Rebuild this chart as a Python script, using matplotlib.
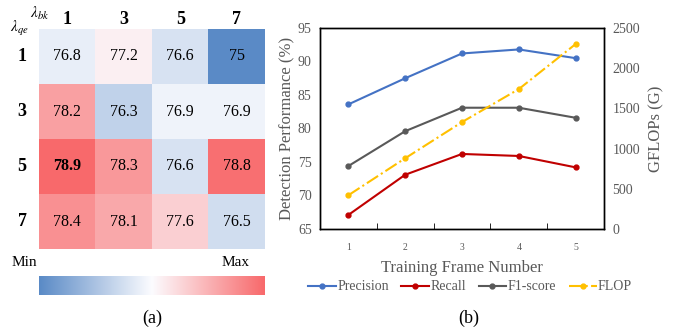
import numpy as np
import matplotlib
matplotlib.use("Agg")
import matplotlib.pyplot as plt
from matplotlib.colors import LinearSegmentedColormap, TwoSlopeNorm

plt.rcParams['font.family'] = ['Liberation Serif', 'DejaVu Serif']
plt.rcParams['mathtext.fontset'] = 'stix'

# ---- data (a) heatmap ----
bk_labels = ['1', '3', '5', '7']
qe_labels = ['1', '3', '5', '7']
heat = np.array([
    [76.8, 77.2, 76.6, 75.0],
    [78.2, 76.3, 76.9, 76.9],
    [78.9, 78.3, 76.6, 78.8],
    [78.4, 78.1, 77.6, 76.5],
])
heat_text = [
    ['76.8', '77.2', '76.6', '75'],
    ['78.2', '76.3', '76.9', '76.9'],
    ['78.9', '78.3', '76.6', '78.8'],
    ['78.4', '78.1', '77.6', '76.5'],
]

# ---- data (b) lines ----
frames = ['1', '2', '3', '4', '5']
precision = [83.6, 87.5, 91.2, 91.8, 90.5]
recall = [67.1, 73.1, 76.2, 75.9, 74.2]
f1 = [74.4, 79.6, 83.1, 83.1, 81.6]
flop = [420, 880, 1330, 1740, 2300]

W, H = 678, 331
fig = plt.figure(figsize=(W / 100, H / 100), dpi=100)

cmap = LinearSegmentedColormap.from_list('excel', ['#5A8AC6', '#FCFCFF', '#F8696B'])
norm = TwoSlopeNorm(vmin=heat.min(), vcenter=np.median(heat), vmax=heat.max())

def fx(px):
    return px / W

def fy(py):
    return 1 - py / H

axh = fig.add_axes([fx(39), fy(249), fx(226), 220 / H])
axh.imshow(heat, cmap=cmap, norm=norm, aspect='auto')
for i in range(4):
    for j in range(4):
        bold = heat[i, j] == heat.max()
        axh.text(j, i, heat_text[i][j], ha='center', va='center', fontsize=11.5,
                 fontweight='bold' if bold else 'normal', color='black')
axh.set_xticks([]); axh.set_yticks([])
for s in axh.spines.values():
    s.set_visible(False)
for j, lab in enumerate(bk_labels):
    axh.text(j, -0.52, lab, ha='center', va='bottom', fontsize=13, fontweight='bold')
for i, lab in enumerate(qe_labels):
    axh.text(-0.8, i, lab, ha='center', va='center', fontsize=13, fontweight='bold')
fig.text(fx(40), fy(13), r'$\lambda_{bk}$', ha='center', va='center', fontsize=11)
fig.text(fx(19), fy(29), r'$\lambda_{qe}$', ha='center', va='center', fontsize=11)

# colorbar
axc = fig.add_axes([fx(39), fy(295), fx(226), 19 / H])
grad = np.linspace(heat.min(), heat.max(), 256)[None, :]
axc.imshow(grad, cmap=cmap,
           norm=TwoSlopeNorm(vmin=heat.min(), vcenter=(heat.min() + heat.max()) / 2, vmax=heat.max()),
           aspect='auto')
axc.set_xticks([]); axc.set_yticks([])
for s in axc.spines.values():
    s.set_visible(False)
fig.text(fx(24), fy(263), 'Min', ha='center', va='center', fontsize=11)
fig.text(fx(236), fy(263), 'Max', ha='center', va='center', fontsize=11)
fig.text(fx(152), fy(318), '(a)', ha='center', va='center', fontsize=13)

# ---- (b) ----
gray = '#595959'
ax = fig.add_axes([fx(320), fy(229), fx(284), 201 / H])
x = np.arange(1, len(frames) + 1)
lp, = ax.plot(x, precision, color='#4472C4', marker='o', ms=3.5, lw=1.5, label='Precision')
lr, = ax.plot(x, recall, color='#C00000', marker='o', ms=3.5, lw=1.5, label='Recall')
lf, = ax.plot(x, f1, color=gray, marker='o', ms=3.5, lw=1.5, label='F1-score')
ax.set_xlim(0.5, 5.5)
ax.set_ylim(65, 95)
ax.set_yticks([65, 70, 75, 80, 85, 90, 95])
ax.set_xticks(x)
ax.set_xticklabels(frames)
ax.set_xticks([1.5, 2.5, 3.5, 4.5], minor=True)
ax.tick_params(axis='x', which='major', length=0, labelsize=7, colors=gray, pad=10)
ax.tick_params(axis='x', which='minor', length=4, direction='in', color='black')
ax.tick_params(axis='y', length=0, labelsize=10, labelcolor=gray, pad=6)
ax.set_ylabel('Detection Performance (%)', fontsize=12, color=gray, labelpad=2)
ax.set_xlabel('Training Frame Number', fontsize=12, color=gray, labelpad=6)
for s in ax.spines.values():
    s.set_color('black'); s.set_linewidth(1)

ax2 = ax.twinx()
lfl, = ax2.plot(x, flop, color='#FFC000', marker='o', ms=3.5, lw=1.5, ls='-.', label='FLOP')
ax2.set_ylim(0, 2500)
ax2.set_yticks([0, 500, 1000, 1500, 2000, 2500])
ax2.tick_params(axis='y', length=0, labelsize=10, labelcolor=gray, pad=6)
ax2.set_ylabel('GFLOPs (G)', fontsize=12, color=gray, labelpad=6)
for s in ax2.spines.values():
    s.set_color('black'); s.set_linewidth(1)

fig.legend(handles=[lp, lr, lf, lfl], loc='center', bbox_to_anchor=(fx(470), fy(287)),
           ncol=4, frameon=False, fontsize=10, handlelength=2.0, handletextpad=0.1,
           columnspacing=0.9, labelcolor=gray)
fig.text(fx(469), fy(318), '(b)', ha='center', va='center', fontsize=13)

fig.savefig('out.png', dpi=100)
